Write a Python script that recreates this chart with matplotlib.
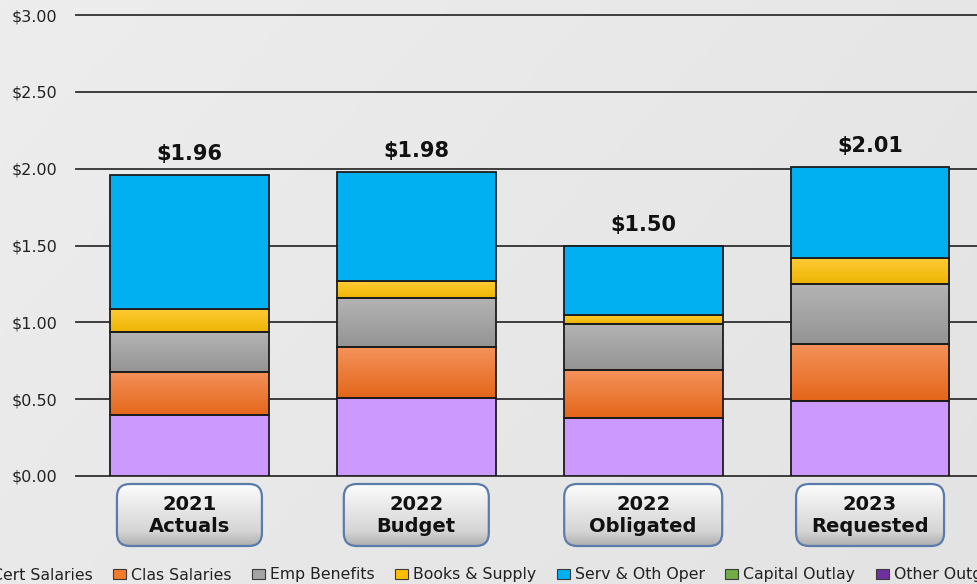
import numpy as np
import matplotlib
matplotlib.use('Agg')
import matplotlib.pyplot as plt
from matplotlib.patches import FancyBboxPatch, Patch
from matplotlib.colors import to_rgb
from matplotlib.ticker import FuncFormatter

# cost per unit, stacked by expense category
categories = ['2021\nActuals', '2022\nBudget', '2022\nObligated', '2023\nRequested']
cert_salaries = [0.40, 0.51, 0.38, 0.49]
clas_salaries = [0.28, 0.33, 0.31, 0.37]
emp_benefits = [0.26, 0.32, 0.30, 0.39]
books_supply = [0.15, 0.11, 0.06, 0.17]
serv_oth_oper = [0.87, 0.71, 0.45, 0.59]
capital_outlay = [0.0, 0.0, 0.0, 0.0]
other_outgo = [0.0, 0.0, 0.0, 0.0]

series_names = ['Cert Salaries', 'Clas Salaries', 'Emp Benefits', 'Books & Supply',
                'Serv & Oth Oper', 'Capital Outlay', 'Other Outgo']
series_values = [cert_salaries, clas_salaries, emp_benefits, books_supply,
                 serv_oth_oper, capital_outlay, other_outgo]

# flat colours (also used for the legend) and top/bottom gradients
flat_colors = ['#CC99FF', '#F47B2A', '#A5A5A5', '#FFC000', '#00B0F0', '#70AD47', '#7030A0']
gradients = {
    'Clas Salaries': ('#F4925A', '#E4661A'),
    'Emp Benefits': ('#B4B4B4', '#949494'),
    'Books & Supply': ('#FFCC38', '#EDB500'),
}

W, H = 978, 584
fig = plt.figure(figsize=(W / 100, H / 100), dpi=100)

# soft grey background
bg = fig.add_axes([0, 0, 1, 1], zorder=0)
xx, yy = np.meshgrid(np.linspace(0, 1, 200), np.linspace(0, 1, 120))
t = (0.65 * xx + 0.35 * yy)[..., None]
c0, c1 = np.array(to_rgb('#EDEDED')), np.array(to_rgb('#E3E3E3'))
bg.imshow(c0 * (1 - t) + c1 * t, extent=[0, 1, 0, 1], aspect='auto', origin='upper')
bg.axis('off')

ax = fig.add_axes([76 / W, 108 / H, (983.5 - 76) / W, 461 / H], zorder=1)
ax.patch.set_alpha(0)

x = np.arange(len(categories))
bottom = np.zeros(len(categories))
for name, vals, color in zip(series_names, series_values, flat_colors):
    vals = np.array(vals)
    bars = ax.bar(x, vals, 0.7, bottom=bottom, color=color, edgecolor='#1c1c1c',
                  linewidth=1.3, zorder=3)
    for p, v in zip(bars, vals):
        if v <= 0:
            p.set_linewidth(0)
    if name in gradients:
        top_c, bot_c = gradients[name]
        grad = np.linspace(to_rgb(top_c), to_rgb(bot_c), 64)[:, None, :]
        for p in bars:
            if p.get_height() <= 0:
                continue
            ax.imshow(grad, extent=[p.get_x(), p.get_x() + p.get_width(),
                                    p.get_y(), p.get_y() + p.get_height()],
                      aspect='auto', origin='upper', interpolation='bilinear', zorder=2.5)
            p.set_facecolor('none')
    bottom += vals

ax.set_xlim(-0.5, 3.5)
ax.set_ylim(0, 3)
ax.set_yticks(np.arange(0, 3.01, 0.5))
ax.yaxis.set_major_formatter(FuncFormatter(lambda v, _: f'${v:.2f}'))
ax.yaxis.grid(True, color='#303030', linewidth=1.3)
for gl in ax.get_ygridlines():
    gl.set_clip_on(False)
ax.set_axisbelow(True)
ax.set_xticks([])
ax.tick_params(axis='y', length=0, pad=13.5, labelsize=11.5, labelcolor='#222222')
for s in ax.spines.values():
    s.set_visible(False)

# totals above each stack
for i, total in enumerate(bottom):
    ax.annotate(f'${total:.2f}', (i, total), xytext=(0, 15), textcoords='offset points',
                ha='center', va='center', fontsize=15, fontweight='bold', color='#111111')

# rounded category buttons, drawn in pixel space
deco = fig.add_axes([0, 0, 1, 1], zorder=2)
deco.set_xlim(0, W)
deco.set_ylim(H, 0)
deco.axis('off')
deco.patch.set_alpha(0)
box_w = [145, 145, 158, 148]
box_top, box_h = 484, 62
btn = np.array([to_rgb(c) for c in ['#FDFDFD', '#EFEFEF', '#E2E2E2', '#D6D6D6', '#AFAFAF']])
btn_grad = np.vstack([np.linspace(btn[k], btn[k + 1], 16) for k in range(len(btn) - 1)])[:, None, :]
for i, label in enumerate(categories):
    cx = ax.transData.transform((i, 0))[0]
    w = box_w[i]
    box = FancyBboxPatch((cx - w / 2, box_top), w, box_h,
                         boxstyle='round,pad=0,rounding_size=13',
                         facecolor='none', edgecolor='#5B7CAB', linewidth=1.6, zorder=3)
    deco.add_patch(box)
    im = deco.imshow(btn_grad, extent=[cx - w / 2, cx + w / 2, box_top + box_h, box_top],
                     aspect='auto', origin='upper', interpolation='bilinear', zorder=2)
    im.set_clip_path(box)
    deco.text(cx, box_top + box_h / 2, label, ha='center', va='center', fontsize=14,
              fontweight='bold', color='#111111', linespacing=1.2, zorder=4)

handles = [Patch(facecolor=c, edgecolor='#3a3a3a', linewidth=0.8) for c in flat_colors]
fig.legend(handles, series_names, loc='center', bbox_to_anchor=(0.4934, 9 / H), ncol=7,
           frameon=False, fontsize=11.3, handlelength=0.85, handleheight=0.65,
           handletextpad=0.3, columnspacing=1.3, labelcolor='#222222')

fig.savefig('out.png', dpi=100)
